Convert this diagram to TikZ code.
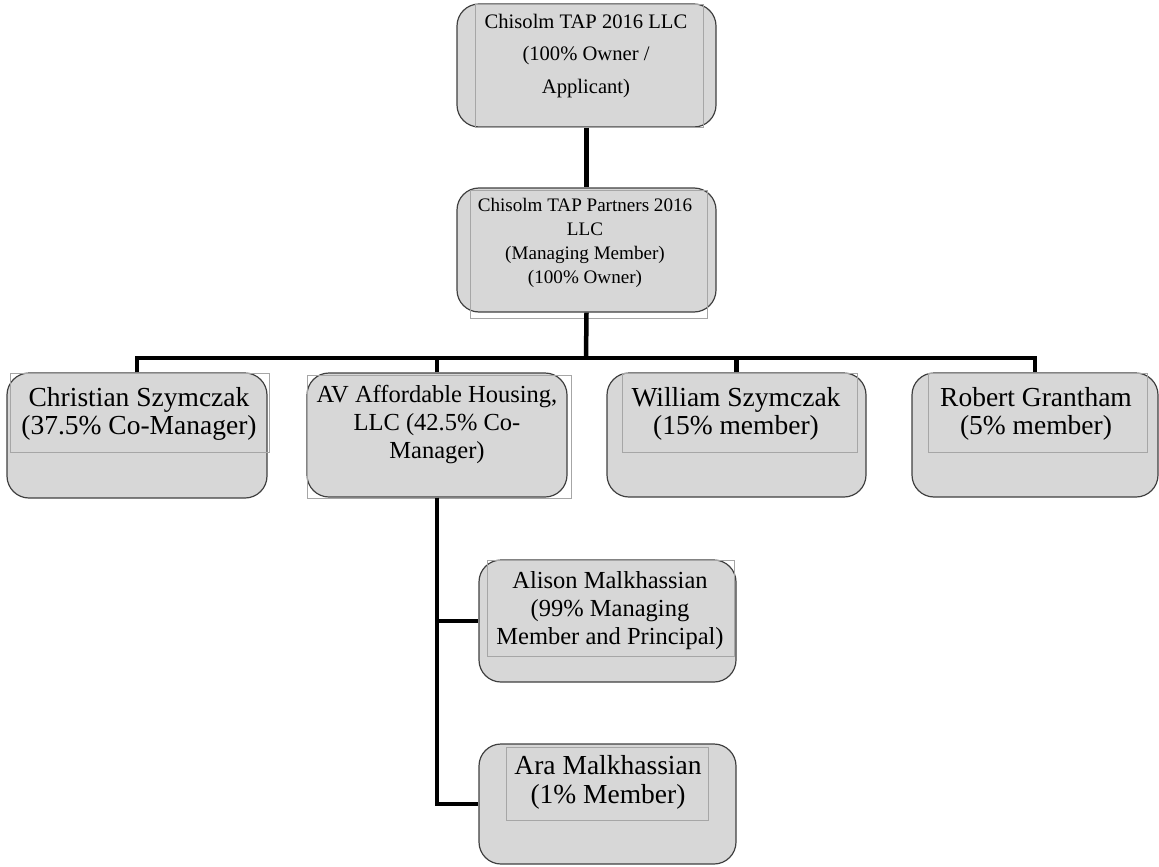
\documentclass[tikz,border=0pt]{standalone}
\usepackage{fontspec}
\setmainfont{Liberation Serif}
\usetikzlibrary{positioning,calc}
\definecolor{boxgray}{RGB}{215,215,215}

\begin{document}
\begin{tikzpicture}[x=1pt, y=-1pt,
		orgbox/.style={draw=black!75, line width=1.2pt, fill=boxgray, rounded corners=22pt, inner sep=0pt},
		txtframe/.style={draw=black!35, line width=0.9pt},
		lbl/.style={anchor=north, align=center, inner sep=0pt, text=black},
		link/.style={line width=4.5pt, black}]
				\useasboundingbox (0,0) rectangle (1159,867);

				% Owner / applicant
				\node[orgbox, minimum width=259pt, minimum height=123pt] (top) at (586.5,65.5) {};
				\draw[txtframe] (475,4) rectangle (703,127);
				\node[lbl, font=\fontsize{20.6}{32.5}\selectfont] (top-t) at (586,14) {Chisolm TAP 2016 LLC\\(100\% Owner /\\Applicant)};

				% Managing member
				\node[orgbox, minimum width=259pt, minimum height=124pt] (mm) at (586.5,250) {};
				\draw[txtframe] (470,190) rectangle (707,318);
				\node[lbl, font=\fontsize{19.1}{24}\selectfont] (mm-t) at (585,198) {Chisolm TAP Partners 2016\\LLC\\(Managing Member)\\(100\% Owner)};

				% Members
				\node[orgbox, minimum width=260pt, minimum height=125pt] (cs) at (137,435.5) {};
				\draw[txtframe] (10,373) rectangle (269,452);
				\node[lbl, font=\fontsize{27.5}{28.5}\selectfont] (cs-t) at (139,387) {Christian Szymczak\\(37.5\% Co-Manager)};

				\node[orgbox, minimum width=260pt, minimum height=124pt] (av) at (437,435) {};
				\draw[txtframe] (307,375) rectangle (571,498);
				\node[lbl, font=\fontsize{24.5}{28}\selectfont] (av-t) at (437,385) {AV Affordable Housing,\\LLC (42.5\% Co-\\Manager)};

				\node[orgbox, minimum width=259pt, minimum height=124pt] (ws) at (736.5,435) {};
				\draw[txtframe] (622,373) rectangle (857,452);
				\node[lbl, font=\fontsize{27.5}{28.5}\selectfont] (ws-t) at (736,387) {William Szymczak\\(15\% member)};

				\node[orgbox, minimum width=246pt, minimum height=124pt] (rg) at (1035,435) {};
				\draw[txtframe] (928,373) rectangle (1147,452);
				\node[lbl, font=\fontsize{27.5}{28.5}\selectfont] (rg-t) at (1036,387) {Robert Grantham\\(5\% member)};

				% Members of AV Affordable Housing
				\node[orgbox, minimum width=257pt, minimum height=122pt] (am) at (607.5,621) {};
				\draw[txtframe] (487,560) rectangle (734,656);
				\node[lbl, font=\fontsize{24.5}{28}\selectfont] (am-t) at (610,571) {Alison Malkhassian\\(99\% Managing\\Member and Principal)};

				\node[orgbox, minimum width=257pt, minimum height=120pt] (ara) at (607.5,804) {};
				\draw[txtframe] (506,747) rectangle (708,820);
				\node[lbl, font=\fontsize{27.5}{29}\selectfont] (ara-t) at (608,755) {Ara Malkhassian\\(1\% Member)};

				% Connectors
				\coordinate (bar) at (586,358);
				\draw[link] (top.south) -- (mm.north);
				\draw[link] (mm.south) -- (bar);
				\draw[link] (cs.north) |- (bar) -| (rg.north);
				\draw[link] (av.north) -- (av.north |- bar);
				\draw[link] (ws.north) -- (ws.north |- bar);
				\draw[link] (av.south) |- (am.west);
				\draw[link] (av.south) |- (ara.west);
			\end{tikzpicture}
\end{document}
